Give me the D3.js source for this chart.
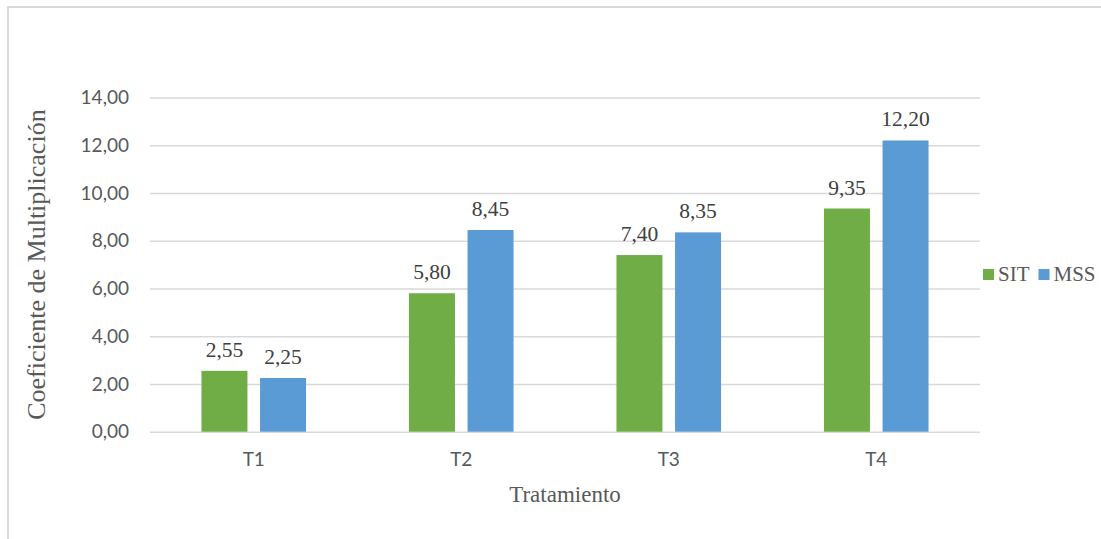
<!DOCTYPE html>
<html>
<head>
<meta charset="utf-8">
<script src="https://cdn.jsdelivr.net/npm/d3@7/dist/d3.min.js"></script>
<style>
  html, body { margin: 0; padding: 0; background: #fff; }
  svg { display: block; }
</style>
</head>
<body>
<svg id="chart" width="1101" height="539"></svg>
<script>
// Multiplication coefficient per treatment, two methods
const categories = ["T1", "T2", "T3", "T4"];
const seriesNames = ["SIT", "MSS"];
const sitValues = [2.55, 5.80, 7.40, 9.35];
const mssValues = [2.25, 8.45, 8.35, 12.20];
const yTicks = [0, 2, 4, 6, 8, 10, 12, 14];
const colors = { SIT: "#70ad47", MSS: "#5b9bd5" };

const fmt = v => v.toFixed(2).replace(".", ",");

const svg = d3.select("#chart");
const W = 1101, H = 539;
const plot = { left: 150, right: 980, top: 97.5, bottom: 431.7 };

// outer frame (top and left edges visible)
svg.append("rect")
  .attr("x", 8).attr("y", 7)
  .attr("width", W + 20).attr("height", H + 20)
  .attr("fill", "none").attr("stroke", "#d9d9d9").attr("stroke-width", 2);

const y = d3.scaleLinear().domain([0, 14]).range([plot.bottom, plot.top]);
const x0 = d3.scaleBand().domain(categories)
  .range([plot.left, plot.right]).paddingInner(0.496).paddingOuter(0.248);
const x1 = d3.scaleBand().domain(seriesNames)
  .range([0, x0.bandwidth()]).paddingInner(0.215);

// gridlines + y tick labels
const yAxis = d3.axisLeft(y).tickValues(yTicks).tickFormat(fmt)
  .tickSize(-(plot.right - plot.left)).tickPadding(21);
const gy = svg.append("g").attr("transform", `translate(${plot.left},0)`).call(yAxis);
gy.select(".domain").remove();
gy.selectAll(".tick line").attr("stroke", "#d9d9d9").attr("stroke-width", 1.5);
gy.selectAll(".tick text")
  .attr("fill", "#595959")
  .style("font-family", "Lato, 'Open Sans', sans-serif")
  .style("font-size", "19px");

// x tick labels
const xAxis = d3.axisBottom(x0).tickSize(0).tickPadding(21);
const gx = svg.append("g").attr("transform", `translate(0,${plot.bottom})`).call(xAxis);
gx.select(".domain").remove();
gx.selectAll(".tick text")
  .attr("fill", "#595959")
  .style("font-family", "Lato, 'Open Sans', sans-serif")
  .style("font-size", "19px");

// bars
const rows = categories.map((c, i) => ({ cat: c, SIT: sitValues[i], MSS: mssValues[i] }));
const groups = svg.append("g").selectAll("g").data(rows).join("g")
  .attr("transform", d => `translate(${x0(d.cat)},0)`);

const items = groups.selectAll("g").data(d => seriesNames.map(s => ({ s, v: d[s] }))).join("g");
items.append("rect")
  .attr("x", d => x1(d.s))
  .attr("y", d => y(d.v))
  .attr("width", x1.bandwidth())
  .attr("height", d => y(0) - y(d.v))
  .attr("fill", d => colors[d.s]);

// value labels
items.append("text")
  .attr("x", d => x1(d.s) + x1.bandwidth() / 2)
  .attr("y", d => y(d.v) - 14)
  .attr("text-anchor", "middle")
  .attr("fill", "#404040")
  .style("font-family", "'Liberation Serif', 'Times New Roman', serif")
  .style("font-size", "21.5px")
  .text(d => fmt(d.v));

// axis titles
svg.append("text")
  .attr("x", (plot.left + plot.right) / 2).attr("y", 502)
  .attr("text-anchor", "middle").attr("fill", "#595959")
  .style("font-family", "'Liberation Serif', 'Times New Roman', serif")
  .style("font-size", "23px")
  .text("Tratamiento");

svg.append("text")
  .attr("transform", `translate(45,${(plot.top + plot.bottom) / 2}) rotate(-90)`)
  .attr("text-anchor", "middle").attr("fill", "#595959")
  .style("font-family", "'Liberation Serif', 'Times New Roman', serif")
  .style("font-size", "26px")
  .text("Coeficiente de Multiplicación");

// legend
const legendItems = [{ s: "SIT", x: 983 }, { s: "MSS", x: 1038.5 }];
const lg = svg.append("g").selectAll("g").data(legendItems).join("g")
  .attr("transform", d => `translate(${d.x},0)`);
lg.append("rect").attr("x", 0).attr("y", 269).attr("width", 11).attr("height", 11)
  .attr("fill", d => colors[d.s]);
lg.append("text").attr("x", 15).attr("y", 281)
  .attr("fill", "#595959")
  .style("font-family", "'Liberation Serif', 'Times New Roman', serif")
  .style("font-size", "21px")
  .text(d => d.s);
</script>
</body>
</html>
